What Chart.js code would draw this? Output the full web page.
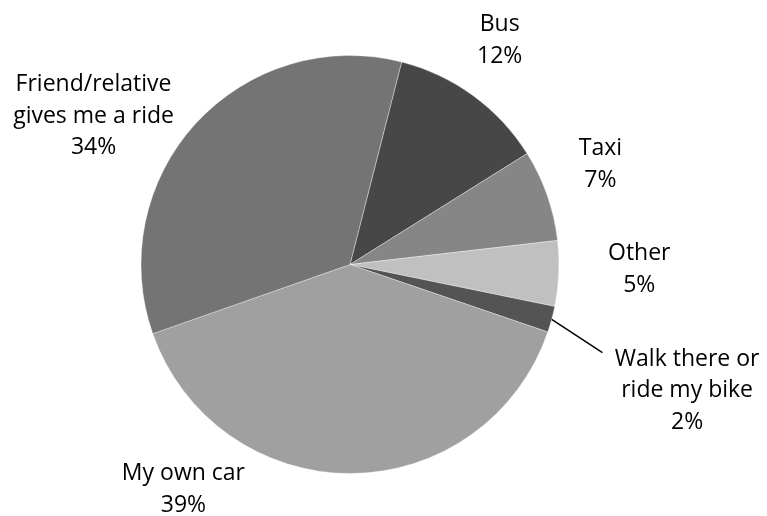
<!DOCTYPE html>
<html>
<head>
<meta charset="utf-8">
<script src="https://cdn.jsdelivr.net/npm/chart.js@4"></script>
<style>
  html, body { margin: 0; padding: 0; background: #ffffff; }
  #wrap { width: 767px; height: 516px; }
</style>
</head>
<body>
<div id="wrap"><canvas id="c" width="767" height="516"></canvas></div>
<script>
// ---- data ----
const categories = [
  ['Bus'],
  ['Taxi'],
  ['Other'],
  ['Walk there or', 'ride my bike'],
  ['My own car'],
  ['Friend/relative', 'gives me a ride']
];
const shares = [12, 7, 5, 2, 39, 34];
const sliceColors = ['#474747', '#868686', '#c0c0c0', '#545454', '#a0a0a0', '#747474'];

// ---- label layout (relative to pie centre, in units of the radius; x = centre of text, y = first baseline) ----
const labelAnchors = [
  [0.716, -1.115],
  [1.198, -0.523],
  [1.384, -0.021],
  [1.613, 0.484],
  [-0.797, 1.033],
  [-1.227, -0.830]
];
// leader line end (only for the small slice)
const leaderEnds = [null, null, null, [1.208, 0.422], null, null];

const FONT = '23px "Open Sans", Lato, sans-serif';
const LINE_STEP = 31.5;

const labelPlugin = {
  id: 'pieLabels',
  afterDraw(chart) {
    const ctx = chart.ctx;
    const meta = chart.getDatasetMeta(0);
    ctx.save();
    ctx.font = FONT;
    ctx.fillStyle = '#000000';
    ctx.textAlign = 'center';
    ctx.textBaseline = 'alphabetic';
    meta.data.forEach((arc, i) => {
      const p = arc.getProps(['x', 'y', 'startAngle', 'endAngle', 'outerRadius'], true);
      const r = p.outerRadius;
      const lines = categories[i].concat([shares[i] + '%']);
      const ax = p.x + labelAnchors[i][0] * r;
      const ay = p.y + labelAnchors[i][1] * r;
      lines.forEach((t, k) => ctx.fillText(t, ax, ay + k * LINE_STEP));
      if (leaderEnds[i]) {
        const mid = (p.startAngle + p.endAngle) / 2;
        ctx.beginPath();
        ctx.strokeStyle = '#000000';
        ctx.lineWidth = 1.5;
        ctx.moveTo(p.x + Math.cos(mid) * r, p.y + Math.sin(mid) * r);
        ctx.lineTo(p.x + leaderEnds[i][0] * r, p.y + leaderEnds[i][1] * r);
        ctx.stroke();
      }
    });
    ctx.restore();
  }
};

new Chart(document.getElementById('c'), {
  type: 'pie',
  data: {
    labels: categories.map(c => c.join(' ')),
    datasets: [{
      data: shares,
      backgroundColor: sliceColors,
      borderColor: 'rgba(255,255,255,0.35)',
      borderWidth: 1
    }]
  },
  options: {
    responsive: false,
    devicePixelRatio: 1,
    animation: false,
    rotation: 14.3,
    layout: { padding: { left: 140.5, right: 207.5, top: 55, bottom: 42 } },
    plugins: {
      legend: { display: false },
      tooltip: { enabled: false }
    }
  },
  plugins: [labelPlugin]
});
</script>
</body>
</html>
